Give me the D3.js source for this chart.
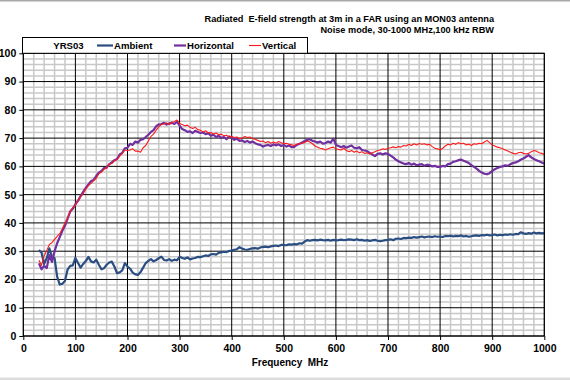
<!DOCTYPE html>
<html><head><meta charset="utf-8">
<script src="https://cdn.jsdelivr.net/npm/d3@7"></script>
<style>body{margin:0;background:#fff}svg{display:block}text{font-family:"Liberation Sans",Arial,sans-serif;font-weight:bold;fill:#000}</style>
</head><body><svg id="c" width="570" height="380"></svg>
<script>
const titleLines = ["Radiated  E-field strength at 3m in a FAR using an MON03 antenna", "Noise mode, 30-1000 MHz,100 kHz RBW"];
const legendTitle = "YRS03";
const seriesNames = ["Ambient", "Horizontal", "Vertical"];
const xTicks = [0,100,200,300,400,500,600,700,800,900,1000];
const yTicks = [0,10,20,30,40,50,60,70,80,90,100];
const xLabel = "Frequency  MHz";
// frequency grid: 30..1000 MHz, 5 MHz step
const freq = d3.range(30, 1001, 5);
const ambient = [
30.4,29.5,25.5,27.5,31,28,27.5,21,18.2,18.5,
19.5,23.5,24.8,25,27.6,25.8,24.2,25.5,26.5,28,
26.4,26,27,25.2,23.6,24,25.2,26,26.3,24.5,
22.2,22.5,23.2,25.8,24.6,23.8,22.4,21.8,21.6,22.6,
24.2,25.8,26.6,27.2,26.4,26.9,27.5,28.1,26.9,26.7,
27.2,26.6,27,26.8,28,27.6,27.3,27.8,27.1,27.4,
27.6,28,27.9,28.2,28.5,28.3,28.9,29,28.8,29.4,
29.6,29.8,29.7,30.1,30.2,30.5,30.7,31.4,30.9,30.6,
30.5,30.8,31,31.1,30.9,31.3,31.5,31.6,31.4,31.7,
31.9,32,31.8,32.2,32.2,32.1,32.4,32.3,32.5,32.4,
32.8,32.7,33.4,33.9,33.7,33.9,34,33.8,34.1,33.9,
33.8,34,33.7,34,33.8,33.9,34.1,33.9,34,34.2,
34.1,33.9,34.2,33.9,34,33.7,33.9,33.6,33.8,34,
33.7,33.5,33.7,33.9,34,34.2,33.9,34.4,34.5,34.3,
34.7,34.6,34.8,34.7,35,34.8,35,35.2,34.9,35.1,
35.2,35,35.3,35.1,35.2,35,35.4,35.3,35.5,35.2,
35.4,35.3,35.6,35.2,35.4,35.1,35.3,35.5,35.6,35.4,
35.7,35.6,35.8,35.6,35.7,35.9,35.6,35.8,35.7,35.9,
35.8,36,35.8,36.1,36,36.7,36.3,36.1,36.4,36.2,
36.6,36.3,36.5,36.3,36.4];
const horizontal = [
25.7,23.6,24.8,24,28.6,26.2,30,32.8,35,37.2,
39,41.5,44,45,46.6,47.8,49.5,51,52.4,53.6,
54.8,55.2,56.6,57.8,58.4,59.4,59.6,60.8,61.4,62.2,
62.6,64.2,64.8,66.4,66.6,68,67.6,68.8,68.4,69.4,
69.6,70.4,71.2,72.2,72.8,74.2,74.8,75,75.4,74.8,
75.2,75.4,75,75.8,74.4,73.2,72.8,72.2,72.4,71.8,
72.6,72.2,71.8,72,71.4,71.8,70.8,71.2,70.4,70.8,
70,70.4,69.6,70.6,70.2,69.4,69.8,69,69.2,68.6,
69,68.4,68.8,68.2,67.8,67.6,67,67.4,67.6,67.2,
67.8,67.4,67.8,67.2,67.6,67,67.4,66.8,66.9,67.6,
68,68.4,69,69.4,69.6,69,68.8,68.4,68.8,68,
68.2,68.8,68.4,69.8,67.6,67.2,66.8,67.2,66.6,67,
67.4,66.6,66.4,66.8,65.8,65.6,65.4,64.8,64.2,63.6,
64.4,64.6,64.2,64.6,64.4,63.8,63.2,62.4,61.8,61.4,
61,60.8,61.2,60.6,61,60.4,60.6,60.8,60.2,60.6,
60.4,60,60.2,59.8,59.8,60.2,60,60.8,61,61.6,
61.8,62.2,62.4,62,61.6,61.2,60.4,59.8,59.2,58.4,
57.8,57.4,57.2,57.6,58.4,59,59.4,59.8,60,60.4,
60.2,60.8,61.2,61.4,61.8,62.4,62.8,63.4,64,63.2,
62.6,62.2,61.8,61.4,61];
const vertical = [
26.8,25,28.4,30.2,32.4,33,34.2,35.2,36.2,38,
40,41.6,44.2,45.4,46.2,48,49.2,50.4,52,53.2,
54,55,55.8,57.4,58,59,59.4,60.8,61,62,
62.4,63.6,64.6,65.8,65.6,65.8,66.2,65.4,65.4,65,
66.6,67.4,69,70.6,71.4,72.8,74,74.8,75,75.4,
74.8,75.6,75.8,76.4,75.2,74.8,74.4,74.6,73.8,73.4,
73.8,73,72.8,72.2,72.6,71.8,72,71.4,71.8,71.2,
71.4,70.8,71,70.4,70.6,70.2,70.4,69.8,70,70.6,
70.2,70.4,69.8,69.6,69.2,68.8,69,68.4,68.8,68.2,
68.6,68.2,68.8,68.4,68,68.2,67.8,67.6,67.4,67.8,
68,68.2,68.4,69,68.6,68,67.2,66.8,66.4,66.2,
65.8,66.2,66.6,66.8,66.2,66,65.8,66.4,65.6,65.2,
65.6,65,65.4,64.8,65.2,64.6,64.8,64.4,64.8,65.2,
65.6,65.8,66.2,66,66.4,66.6,66.9,66.6,67,66.8,
67.4,67.2,67.8,67.4,68,67.6,68.1,67.8,68,67.6,
67.8,67,66.4,66.2,65.8,66.4,67.2,67.8,67.6,68.2,
67.8,68.4,68,68.2,67.6,67.8,67.4,68,67.8,68.2,
68,68.6,69.2,68.4,67.6,67.2,66.8,66.6,66.2,65.8,
65.4,65,64.6,64.4,64.8,65,64.6,64.4,64.6,65.2,
65.6,65.4,64.8,64.6,64.2];
const colors = ["#2a4e82", "#7030a0", "#ff1a1a"];
const widths = [2.2, 2.2, 1.1];

const svg = d3.select("#c");
const L = 23.3, R = 544.3, T = 53.3, B = 336;
const x = d3.scaleLinear().domain([0,1000]).range([L,R]);
const y = d3.scaleLinear().domain([0,100]).range([B,T]);

// frame strips
svg.append("rect").attr("x",0).attr("y",0).attr("width",570).attr("height",1.5).attr("fill","#a8a8a8");
svg.append("rect").attr("x",0).attr("y",377.5).attr("width",570).attr("height",2.5).attr("fill","#dcdcdc");

// minor grid
const g = svg.append("g");
g.selectAll(".mx").data(d3.range(0,1001,20).filter(v=>v%100)).join("line")
  .attr("x1",d=>x(d)).attr("x2",d=>x(d)).attr("y1",T).attr("y2",B)
  .attr("stroke","#c8c8c8").attr("stroke-width",1.5);
g.selectAll(".my").data(d3.range(0,101,2).filter(v=>v%10)).join("line")
  .attr("y1",d=>y(d)).attr("y2",d=>y(d)).attr("x1",L).attr("x2",R)
  .attr("stroke","#c8c8c8").attr("stroke-width",1.5);
// major grid
g.selectAll(".Mx").data(xTicks).join("line")
  .attr("x1",d=>x(d)).attr("x2",d=>x(d)).attr("y1",T).attr("y2",B)
  .attr("stroke","#000").attr("stroke-width",1);
g.selectAll(".My").data(yTicks).join("line")
  .attr("y1",d=>y(d)).attr("y2",d=>y(d)).attr("x1",L).attr("x2",R)
  .attr("stroke","#000").attr("stroke-width",1);

// axes
const xAxis = d3.axisBottom(x).tickValues(xTicks).tickSize(4).tickPadding(5).tickFormat(d3.format("d"));
const yAxis = d3.axisLeft(y).tickValues(yTicks).tickSize(4).tickPadding(3).tickFormat(d3.format("d"));
const xa = svg.append("g").attr("transform",`translate(0,${B})`).call(xAxis);
const ya = svg.append("g").attr("transform",`translate(${L},0)`).call(yAxis);
[xa,ya].forEach(a=>{a.select(".domain").remove();a.selectAll("text").style("font-size","10.5px").style("font-weight","bold").style("font-family","Liberation Sans, Arial, sans-serif");});
xa.selectAll("line").attr("stroke","#000");
ya.selectAll("line").attr("stroke","#000");

// data lines
const line = d3.line().x((d,i)=>x(freq[i])).y(d=>y(d));
[ambient, horizontal, vertical].forEach((s,k)=>{
  svg.append("path").datum(s).attr("d",line).attr("fill","none")
    .attr("stroke",colors[k]).attr("stroke-width",widths[k]).attr("stroke-linejoin","round");
});

// border
svg.append("rect").attr("x",L).attr("y",T).attr("width",R-L).attr("height",B-T)
  .attr("fill","none").attr("stroke","#000").attr("stroke-width",1);

// legend
svg.append("rect").attr("x",22.5).attr("y",37.5).attr("width",285).attr("height",T-37.5)
  .attr("fill","#fff").attr("stroke","#000").attr("stroke-width",1);
svg.append("text").attr("x",68.5).attr("y",49).attr("text-anchor","middle").style("font-size","9.6px").text(legendTitle);
const lx = [97, 174, 249];
const ll = [16, 12, 12];
seriesNames.forEach((n,k)=>{
  svg.append("line").attr("x1",lx[k]).attr("x2",lx[k]+ll[k]).attr("y1",45.5).attr("y2",45.5)
    .attr("stroke",colors[k]).attr("stroke-width",widths[k]);
  svg.append("text").attr("x",lx[k]+ll[k]+1).attr("y",49).style("font-size","9.6px").text(n);
});

// title
titleLines.forEach((t,i)=>{
  svg.append("text").attr("x",494).attr("y",22+i*11).attr("text-anchor","end")
    .style("font-size","9.2px").style("white-space","pre").text(t);
});
// x label
svg.append("text").attr("x",290).attr("y",366).attr("text-anchor","middle").style("font-size","10px").style("white-space","pre").text(xLabel);
</script></body></html>
